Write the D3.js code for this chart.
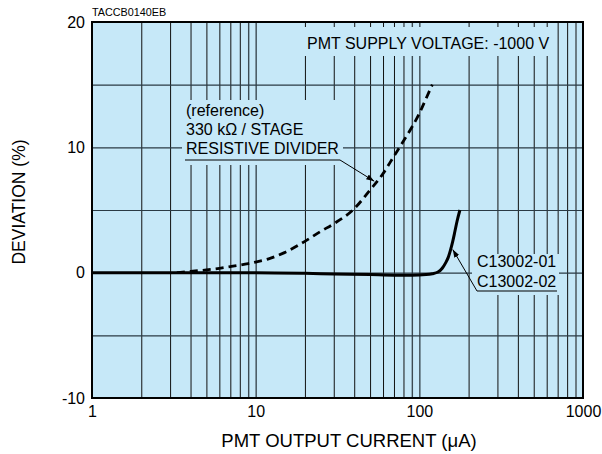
<!DOCTYPE html>
<html>
<head>
<meta charset="utf-8">
<script src="https://cdn.jsdelivr.net/npm/d3@7"></script>
<style>
  body { margin: 0; background: #fff; }
  svg { display: block; font-family: "Liberation Sans", Arial, Helvetica, sans-serif; }
</style>
</head>
<body>
<svg id="chart" width="602" height="454"></svg>
<script>
// ---- data ----
const xTickLabels = [1, 10, 100, 1000];
const yTickLabels = [-10, 0, 10, 20];
const yGrid = [-5, 0, 5, 10, 15];

// reference: 330 kΩ / stage resistive divider (dashed)
const refCurrent = [3.3, 4, 5, 6, 7, 8, 9, 10, 12, 15, 20, 25, 30, 40, 50, 60, 70, 80, 90, 100, 110, 120];
const refDeviation = [0, 0.1, 0.22, 0.35, 0.48, 0.6, 0.72, 0.85, 1.1, 1.6, 2.5, 3.3, 3.9, 5.1, 6.6, 7.9, 9.3, 10.5, 11.6, 12.7, 13.9, 15];

// C13002-01 / C13002-02 (solid)
const cCurrent = [1, 5, 10, 20, 30, 50, 70, 90, 110, 120, 130, 138, 145, 150, 155, 160, 165, 170, 177];
const cDeviation = [0, 0, 0, -0.05, -0.1, -0.15, -0.2, -0.2, -0.15, -0.08, 0.05, 0.35, 0.8, 1.2, 1.8, 2.5, 3.3, 4.1, 5.0];

// annotation anchor points (data coords) for leader arrows
const refArrow = [53, 7.3];
const cArrow = [160, 1.85];

// ---- layout ----
const L = 92, T = 22, R = 583, B = 398;
const W = R - L, H = B - T;
const bg = "#c6e8f8";
const fmt = d => String(d);

const svg = d3.select("#chart");
const x = d3.scaleLog().domain([1, 1000]).range([L, R]);
const y = d3.scaleLinear().domain([-10, 20]).range([B, T]);

svg.append("rect").attr("x", L).attr("y", T).attr("width", W).attr("height", H).attr("fill", bg);

// vertical grid
const xGrid = [];
for (let k = 0; k < 3; k++) for (let i = 2; i <= 10; i++) { const v = i * Math.pow(10, k); if (v < 1000) xGrid.push(v); }
const isMajor = d => (d === 10 || d === 100 || d === 9 || d === 90);
const gx = svg.append("g").attr("transform", `translate(0,${B})`)
  .call(d3.axisBottom(x).tickValues(xGrid).tickSize(-H).tickFormat(""));
gx.select(".domain").remove();
gx.selectAll(".tick line")
  .attr("stroke", d => isMajor(d) ? "#3c4a52" : "#111")
  .attr("stroke-width", d => isMajor(d) ? 1.4 : 1);

// horizontal grid
const gy = svg.append("g").attr("transform", `translate(${L},0)`)
  .call(d3.axisLeft(y).tickValues(yGrid).tickSize(-W).tickFormat(""));
gy.select(".domain").remove();
gy.selectAll(".tick line").attr("stroke", "#2a3a44").attr("stroke-width", 1.2);

// text backgrounds (cut gridlines)
svg.append("rect").attr("x", 299).attr("y", 27).attr("width", 255).attr("height", 29).attr("fill", bg);
svg.append("rect").attr("x", 182).attr("y", 100).attr("width", 161).attr("height", 65).attr("fill", bg);
svg.append("rect").attr("x", 472).attr("y", 254).attr("width", 87).attr("height", 41).attr("fill", bg);

// curves
const line = d3.line().x(d => x(d[0])).y(d => y(d[1])).curve(d3.curveMonotoneX);
svg.append("path").datum(refCurrent.map((c, i) => [c, refDeviation[i]]))
  .attr("d", line).attr("fill", "none").attr("stroke", "#000")
  .attr("stroke-width", 2.8).attr("stroke-dasharray", "8,5");
svg.append("path").datum(cCurrent.map((c, i) => [c, cDeviation[i]]))
  .attr("d", line).attr("fill", "none").attr("stroke", "#000")
  .attr("stroke-width", 3).attr("stroke-linejoin", "round");

// frame
svg.append("rect").attr("x", L).attr("y", T).attr("width", W).attr("height", H)
  .attr("fill", "none").attr("stroke", "#000").attr("stroke-width", 2);

// axes labels
const ax = svg.append("g").attr("transform", `translate(0,${B})`)
  .call(d3.axisBottom(x).tickValues(xTickLabels).tickSize(0).tickPadding(8).tickFormat(fmt));
ax.select(".domain").remove();
ax.selectAll("text").attr("font-size", 16).attr("fill", "#000")
  .attr("font-family", '"Liberation Sans", Arial, sans-serif');

const ay = svg.append("g").attr("transform", `translate(${L},0)`)
  .call(d3.axisLeft(y).tickValues(yTickLabels).tickSize(0).tickPadding(7).tickFormat(fmt));
ay.select(".domain").remove();
ay.selectAll("text").attr("font-size", 16).attr("fill", "#000")
  .attr("font-family", '"Liberation Sans", Arial, sans-serif');

svg.append("text").attr("x", 349).attr("y", 447).attr("text-anchor", "middle")
  .attr("font-size", 18.5).text("PMT OUTPUT CURRENT (\u03BCA)");
svg.append("text").attr("transform", "translate(25,202) rotate(-90)").attr("text-anchor", "middle")
  .attr("font-size", 17.5).text("DEVIATION (%)");

svg.append("text").attr("x", 92).attr("y", 16).attr("font-size", 10.8).text("TACCB0140EB");

// annotations
svg.append("text").attr("x", 307).attr("y", 49).attr("font-size", 16).text("PMT SUPPLY VOLTAGE: -1000 V");

const refLines = ["(reference)", "330 k\u03A9 / STAGE", "RESISTIVE DIVIDER"];
refLines.forEach((t, i) => svg.append("text").attr("x", 186).attr("y", 116 + i * 19).attr("font-size", 16).text(t));

const cLines = ["C13002-01", "C13002-02"];
cLines.forEach((t, i) => svg.append("text").attr("x", 477).attr("y", 267 + i * 19.5).attr("font-size", 16).text(t));

svg.append("defs").append("marker").attr("id", "arr")
  .attr("viewBox", "0 0 10 10").attr("refX", 10).attr("refY", 5)
  .attr("markerWidth", 8).attr("markerHeight", 8).attr("markerUnits", "userSpaceOnUse")
  .attr("orient", "auto")
  .append("path").attr("d", "M0,1.5 L10,5 L0,8.5 Z").attr("fill", "#000");

svg.append("path")
  .attr("d", `M185,160 L340,160 L${x(refArrow[0])},${y(refArrow[1])}`)
  .attr("fill", "none").attr("stroke", "#000").attr("stroke-width", 1).attr("marker-end", "url(#arr)");
svg.append("path")
  .attr("d", `M557,291 L477,291 L${x(cArrow[0])},${y(cArrow[1])}`)
  .attr("fill", "none").attr("stroke", "#000").attr("stroke-width", 1).attr("marker-end", "url(#arr)");
</script>
</body>
</html>
